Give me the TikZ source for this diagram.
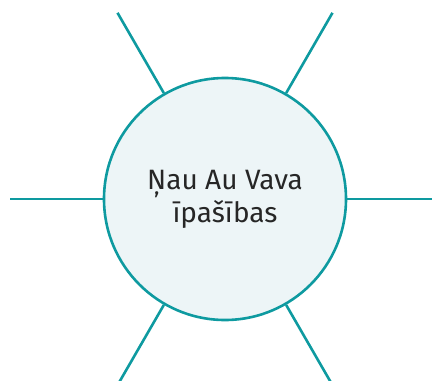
\documentclass[tikz,border=0pt]{standalone}
\usepackage{fontspec}
\setmainfont{Fira Sans}
\usetikzlibrary{calc}
\definecolor{teal1}{HTML}{0E9AA0}
\definecolor{fill1}{HTML}{EDF5F7}
\tikzset{
  hub/.style={circle, draw=teal1, fill=fill1, line width=2.6pt, minimum size=242pt, inner sep=0pt, align=center, font=\fontsize{28}{33}\selectfont, text=black!85},
  spoke/.style={draw=teal1, line width=2.6pt}
}
\begin{document}
\begin{tikzpicture}[x=1pt,y=1pt]
\useasboundingbox (0,0) rectangle (432,-381);
\node[hub] (c) at (225,-199) {Ņau Au Vava\\īpašības};
\foreach \a in {0,60,120,180,240,300} {
  \coordinate (o\a) at ($(c.center)+(\a:215)$);
}
\foreach \a in {0,60,120,180,240,300} {
  \draw[spoke] (c.\a) -- (o\a);
}
\end{tikzpicture}
\end{document}
